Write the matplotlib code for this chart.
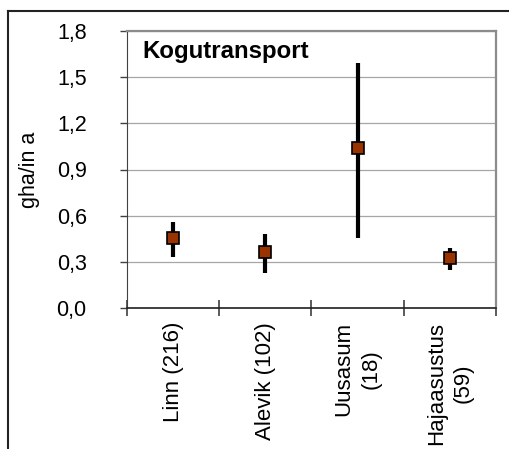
import matplotlib
matplotlib.use('Agg')
import matplotlib.pyplot as plt
import numpy as np
from matplotlib.lines import Line2D

plt.rcParams['font.family'] = ['Liberation Sans', 'DejaVu Sans']

categories = ['Linn (216)', 'Alevik (102)', 'Uusasum\n(18)', 'Hajaasustus\n(59)']
means = [0.455, 0.362, 1.038, 0.323]
lows = [0.333, 0.230, 0.457, 0.247]
highs = [0.560, 0.479, 1.594, 0.388]
yticks = [0.0, 0.3, 0.6, 0.9, 1.2, 1.5, 1.8]
ytick_labels = ['0,0', '0,3', '0,6', '0,9', '1,2', '1,5', '1,8']

fig = plt.figure(figsize=(5.1, 4.49), dpi=100)
ax = fig.add_axes([127/510, 1 - 308/449, 369/510, 277/449])

x = np.arange(len(categories)) + 0.5
means_a = np.array(means)
yerr = [means_a - np.array(lows), np.array(highs) - means_a]
ax.errorbar(x, means, yerr=yerr, fmt='none', ecolor='black', elinewidth=3, capsize=0, zorder=3)
ax.plot(x, means, 's', color='#993300', markersize=8, markeredgecolor='black',
        markeredgewidth=1.2, zorder=4)

ax.set_xlim(0, len(categories))
ax.set_ylim(0, 1.8)
ax.set_yticks(yticks)
ax.set_yticklabels(ytick_labels, fontsize=15.5)
ax.tick_params(axis='y', direction='out', length=5, width=1, color='#404040', pad=24)

ax.set_xticks(x)
ax.set_xticklabels(categories, rotation=90, fontsize=16, multialignment='center',
                   linespacing=1.4)
ax.set_xticks(np.arange(len(categories) + 1), minor=True)
ax.tick_params(axis='x', which='major', length=0, pad=10)
ax.tick_params(axis='x', which='minor', direction='inout', length=12, width=1.2, color='#404040')

ax.yaxis.grid(True, color='#a6a6a6', linewidth=0.9)
ax.set_axisbelow(True)

ax.spines['left'].set_color('#404040')
ax.spines['bottom'].set_color('#202020')
ax.spines['bottom'].set_linewidth(1.2)
for s in ['top', 'right']:
    ax.spines[s].set_color('#8c8c8c')
    ax.spines[s].set_linewidth(1.6)

ax.set_ylabel('gha/in a', fontsize=15.5, va='center')
ax.yaxis.set_label_coords(-0.263, 0.5)

ax.text(0.043, 0.968, 'Kogutransport', transform=ax.transAxes, fontsize=17.3,
        fontweight='bold', va='top', ha='left')

# outer chart frame, running off the right and bottom edges
fig.add_artist(Line2D([8.5/510, 1.0], [1 - 10.5/449] * 2, color='#222222', lw=1.5))
fig.add_artist(Line2D([8.5/510] * 2, [0.0, 1 - 10.5/449], color='#222222', lw=1.5))

fig.savefig('out.png', dpi=100)
